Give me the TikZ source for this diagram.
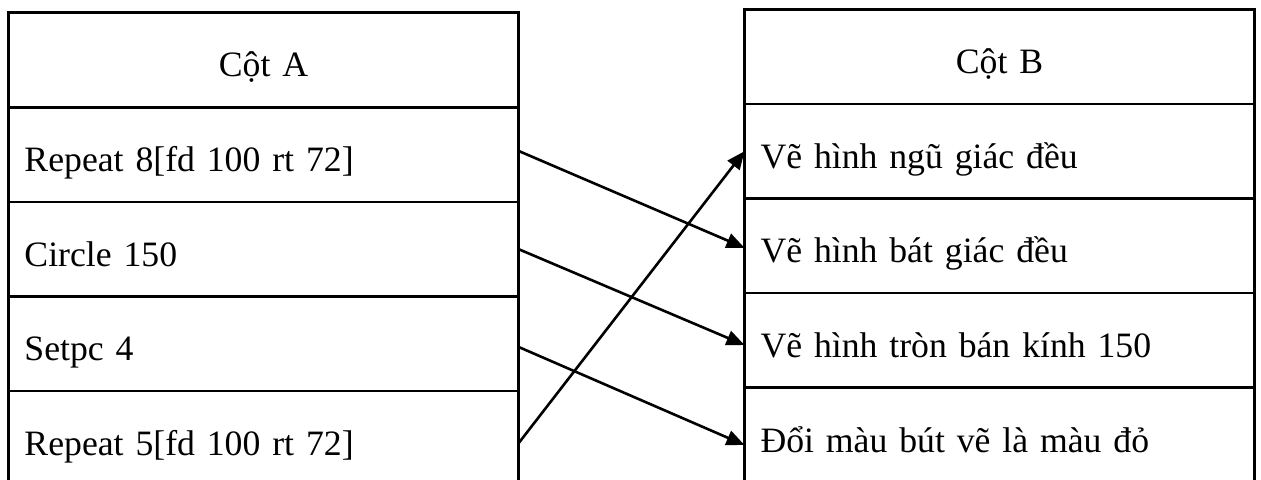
\documentclass[tikz,border=0pt]{standalone}
\usepackage{fontspec}
\setmainfont{Liberation Serif}
\usetikzlibrary{positioning, arrows.meta}
\tikzset{
>={Triangle[length=9pt,width=7.5pt]}, % filled arrow heads
cell/.style={draw, line width=1.3pt, outer sep=0pt, minimum height=47.3pt,
  text width=239pt, inner xsep=8pt, align=left,
  text height=17pt, text depth=0pt,
  font=\fontsize{17.85}{21}\selectfont}, % one row of a column
head/.style={cell, align=center}, % the title row
link/.style={->, line width=1.3pt}, % arrow between the columns
}
\begin{document}
\begin{tikzpicture}[x=0.5pt, y=-0.5pt]
        \useasboundingbox (0,0) rectangle (1261,479);

        % column A
        \node[head] (A0) at (263.5,59.9) {Cột A};
        \node[cell, below=0pt of A0] (A1) {Repeat 8[fd 100 rt 72]};
        \node[cell, below=0pt of A1] (A2) {Circle 150};
        \node[cell, below=0pt of A2] (A3) {Setpc 4};
        \node[cell, below=0pt of A3] (A4) {Repeat 5[fd 100 rt 72]};

        % column B
        \node[head] (B0) at (999.5,56.6) {Cột B};
        \node[cell, below=0pt of B0] (B1) {Vẽ hình ngũ giác đều};
        \node[cell, below=0pt of B1] (B2) {Vẽ hình bát giác đều};
        \node[cell, below=0pt of B2] (B3) {Vẽ hình tròn bán kính 150};
        \node[cell, below=0pt of B3] (B4) {Đổi màu bút vẽ là màu đỏ};

        \draw[link] ([yshift=1.8pt]A1.east) -- ([yshift=-1pt]B2.west);
        \draw[link] (A2.east) -- ([yshift=-2.3pt]B3.west);
        \draw[link] ([yshift=-1.6pt]A3.east) -- ([yshift=-5pt]B4.west);
        \draw[link] ([yshift=-2.5pt]A4.east) -- (B1.west);
    \end{tikzpicture}
\end{document}
